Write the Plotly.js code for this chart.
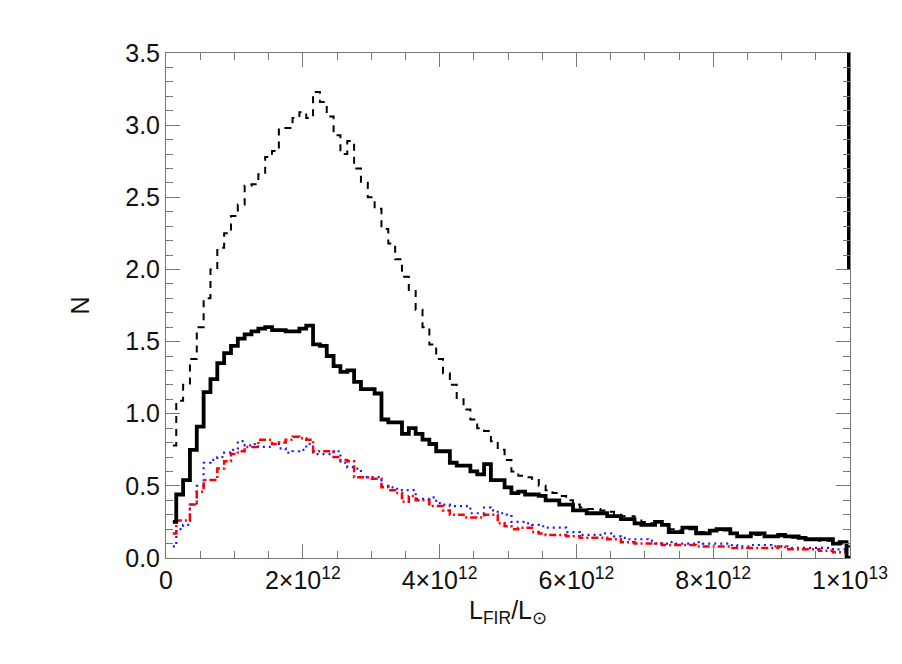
<!DOCTYPE html>
<html>
<head>
<meta charset="utf-8">
<script src="https://cdn.plot.ly/plotly-3.0.1.min.js"></script>
<style>
  html, body { margin: 0; padding: 0; background: #fff; }
  #plot { width: 902px; height: 664px; }
</style>
</head>
<body>
<div id="plot"></div>
<script>
// histogram bins: width 1e11 Lsun, centres at 1e11 ... 1e13
var binWidth = 1e11;
var binCenters = [];
for (var k = 1; k <= 100; k++) binCenters.push(k * binWidth);

// thick solid histogram
var solidN = [
  0.25, 0.44, 0.54, 0.75, 0.91, 1.15, 1.24, 1.35, 1.42, 1.47,
  1.52, 1.55, 1.57, 1.59, 1.60, 1.58, 1.58, 1.57, 1.57, 1.59,
  1.61, 1.48, 1.47, 1.40, 1.33, 1.29, 1.30, 1.22, 1.17, 1.17,
  1.14, 0.96, 0.94, 0.94, 0.86, 0.90, 0.86, 0.82, 0.79, 0.74,
  0.74, 0.66, 0.64, 0.64, 0.60, 0.58, 0.65, 0.54, 0.54, 0.49,
  0.45, 0.46, 0.44, 0.44, 0.43, 0.40, 0.40, 0.37, 0.37, 0.33,
  0.33, 0.31, 0.31, 0.31, 0.29, 0.29, 0.27, 0.27, 0.24, 0.23,
  0.23, 0.25, 0.23, 0.18, 0.18, 0.21, 0.21, 0.17, 0.17, 0.19,
  0.20, 0.20, 0.17, 0.15, 0.15, 0.17, 0.17, 0.15, 0.15, 0.16,
  0.15, 0.15, 0.14, 0.13, 0.13, 0.13, 0.13, 0.10, 0.11, 0.00
];

// dashed histogram
var dashedN = [
  0.78, 1.09, 1.20, 1.38, 1.60, 1.80, 2.00, 2.15, 2.25, 2.37,
  2.45, 2.58, 2.59, 2.66, 2.78, 2.82, 2.98, 2.98, 3.05, 3.09,
  3.05, 3.23, 3.16, 3.06, 2.93, 2.80, 2.89, 2.70, 2.60, 2.50,
  2.42, 2.28, 2.18, 2.07, 1.95, 1.85, 1.72, 1.60, 1.48, 1.38,
  1.28, 1.20, 1.10, 1.03, 0.96, 0.90, 0.88, 0.81, 0.75, 0.68,
  0.60, 0.57, 0.56, 0.55, 0.50, 0.47, 0.45, 0.43, 0.40, 0.37,
  0.35, 0.34, 0.34, 0.33, 0.32, 0.30, 0.29, 0.29, 0.27, 0.25,
  0.24, 0.25, 0.23, 0.20, 0.19, 0.21, 0.20, 0.18, 0.18, 0.19,
  0.19, 0.19, 0.17, 0.16, 0.15, 0.16, 0.16, 0.15, 0.15, 0.15,
  0.15, 0.14, 0.14, 0.13, 0.13, 0.12, 0.12, 0.10, 0.10, 0.08
];

// blue dotted histogram
var blueN = [
  0.08, 0.20, 0.23, 0.37, 0.50, 0.66, 0.68, 0.70, 0.73, 0.75,
  0.81, 0.78, 0.79, 0.77, 0.77, 0.79, 0.76, 0.73, 0.74, 0.75,
  0.79, 0.72, 0.72, 0.72, 0.74, 0.66, 0.63, 0.62, 0.56, 0.56,
  0.56, 0.50, 0.49, 0.48, 0.47, 0.47, 0.41, 0.41, 0.42, 0.38,
  0.37, 0.36, 0.36, 0.36, 0.31, 0.31, 0.35, 0.33, 0.31, 0.30,
  0.25, 0.25, 0.24, 0.23, 0.22, 0.21, 0.21, 0.21, 0.18, 0.18,
  0.16, 0.16, 0.16, 0.17, 0.17, 0.15, 0.14, 0.13, 0.13, 0.13,
  0.12, 0.10, 0.10, 0.11, 0.10, 0.10, 0.10, 0.11, 0.10, 0.10,
  0.10, 0.10, 0.09, 0.08, 0.08, 0.09, 0.09, 0.09, 0.08, 0.08,
  0.08, 0.07, 0.07, 0.07, 0.07, 0.07, 0.07, 0.06, 0.06, 0.03
];

// red dash-dot histogram
var redN = [
  0.17, 0.26, 0.26, 0.37, 0.46, 0.54, 0.54, 0.62, 0.67, 0.72,
  0.74, 0.77, 0.77, 0.82, 0.82, 0.79, 0.80, 0.82, 0.84, 0.83,
  0.82, 0.74, 0.74, 0.74, 0.70, 0.68, 0.67, 0.56, 0.56, 0.55,
  0.55, 0.49, 0.47, 0.45, 0.39, 0.43, 0.40, 0.40, 0.36, 0.36,
  0.33, 0.30, 0.30, 0.28, 0.28, 0.28, 0.30, 0.30, 0.24, 0.22,
  0.20, 0.21, 0.21, 0.18, 0.17, 0.16, 0.16, 0.16, 0.15, 0.15,
  0.14, 0.14, 0.14, 0.14, 0.13, 0.13, 0.11, 0.11, 0.10, 0.10,
  0.10, 0.10, 0.09, 0.09, 0.09, 0.09, 0.09, 0.08, 0.08, 0.08,
  0.08, 0.08, 0.07, 0.07, 0.07, 0.07, 0.07, 0.07, 0.07, 0.08,
  0.06, 0.06, 0.06, 0.06, 0.06, 0.05, 0.05, 0.04, 0.04, 0.01
];

// the odd thick bar at the right edge
var edgeBarX = [9.978e12, 9.978e12];
var edgeBarY = [2.0, 3.5];

var xTickVals = [0, 2e12, 4e12, 6e12, 8e12, 1e13];
var xTickText = ["0", "2×10<sup>12</sup>", "4×10<sup>12</sup>", "6×10<sup>12</sup>",
                 "8×10<sup>12</sup>", "1×10<sup>13</sup>"];
var yTickVals = [0, 0.5, 1, 1.5, 2, 2.5, 3, 3.5];
var yTickText = ["0.0", "0.5", "1.0", "1.5", "2.0", "2.5", "3.0", "3.5"];

var traces = [
  {
    x: binCenters, y: dashedN, mode: "lines",
    line: {shape: "hvh", color: "#000", width: 2, dash: "7px,6px"}
  },
  {
    x: binCenters, y: blueN, mode: "lines",
    line: {shape: "hvh", color: "#1a1aff", width: 2.2, dash: "2px,4px"}
  },
  {
    x: binCenters, y: redN, mode: "lines",
    line: {shape: "hvh", color: "#ff0000", width: 2.5, dash: "7px,3px,2px,3px"}
  },
  {
    x: binCenters, y: solidN, mode: "lines",
    line: {shape: "hvh", color: "#000", width: 3.8}
  },
  {
    x: edgeBarX, y: edgeBarY, mode: "lines",
    line: {color: "#000", width: 3}
  }
];

var axisFont = {family: "Liberation Sans, Arial, sans-serif", size: 25, color: "#111"};

var layout = {
  width: 902,
  height: 664,
  showlegend: false,
  paper_bgcolor: "#fff",
  plot_bgcolor: "#fff",
  margin: {l: 166, r: 52, t: 53, b: 106},
  xaxis: {
    range: [0, 1e13],
    showgrid: false,
    zeroline: false,
    showline: true,
    linecolor: "#777",
    linewidth: 1,
    mirror: "allticks",
    ticks: "inside",
    ticklen: 14,
    tickcolor: "#777",
    tickvals: xTickVals,
    ticktext: xTickText,
    tickfont: axisFont,
    minor: {dtick: 5e11, ticks: "inside", ticklen: 7, tickcolor: "#777", showgrid: false},
    title: {text: "L<sub>FIR</sub>/L<sub>⊙</sub>", font: axisFont, standoff: 8}
  },
  yaxis: {
    range: [0, 3.5],
    showgrid: false,
    zeroline: false,
    showline: true,
    linecolor: "#777",
    linewidth: 1,
    mirror: "allticks",
    ticks: "inside",
    ticklen: 14,
    tickcolor: "#777",
    tickvals: yTickVals,
    ticktext: yTickText,
    tickfont: axisFont,
    minor: {dtick: 0.1, ticks: "inside", ticklen: 7, tickcolor: "#777", showgrid: false},
    title: {text: "N", font: axisFont, standoff: 28}
  }
};

Plotly.newPlot("plot", traces, layout, {displayModeBar: false, staticPlot: true});
</script>
</body>
</html>
